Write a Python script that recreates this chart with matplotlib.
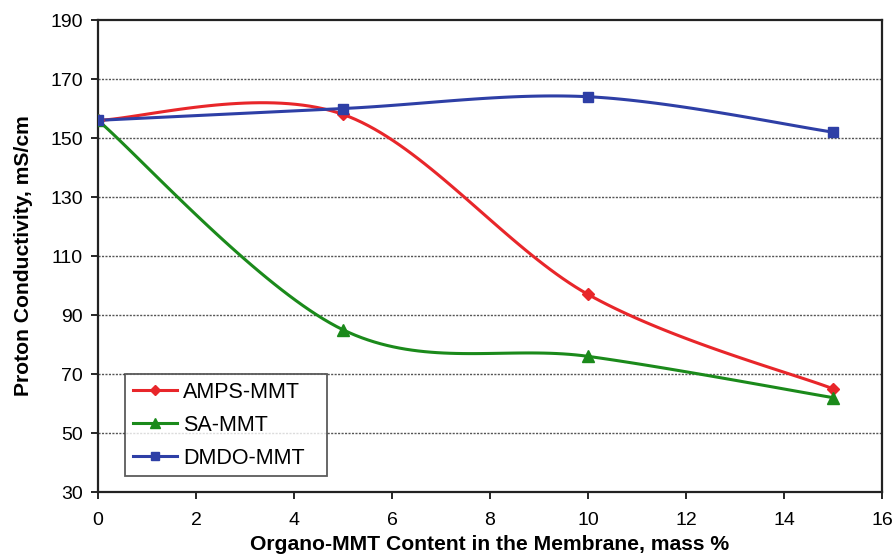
import numpy as np
import matplotlib.pyplot as plt

plt.rcParams['font.family'] = ['Liberation Sans', 'DejaVu Sans']

# data
content = [0, 5, 10, 15]
amps_mmt = [156, 158, 97, 65]
sa_mmt = [156, 85, 76, 62]
dmdo_mmt = [156, 160, 164, 152]

series_names = ["AMPS-MMT", "SA-MMT", "DMDO-MMT"]
colors = ["#e8262a", "#1b8a1b", "#2e3fa6"]
markers = ["D", "^", "s"]
msizes = [6, 8, 7]


def smooth(x, y, n=40):
    # Excel-like smoothed line (Catmull-Rom style bezier)
    x = np.asarray(x, float)
    y = np.asarray(y, float)
    P = np.column_stack([x, y])
    P = np.vstack([P[0], P, P[-1]])
    out = []
    t = np.linspace(0, 1, n)[:, None]
    for i in range(1, len(P) - 2):
        p0, p1 = P[i], P[i + 1]
        c1 = p0 + (P[i + 1] - P[i - 1]) / 6
        c2 = p1 - (P[i + 2] - P[i]) / 6
        seg = ((1 - t) ** 3) * p0 + 3 * ((1 - t) ** 2) * t * c1 + 3 * (1 - t) * t ** 2 * c2 + t ** 3 * p1
        out.append(seg)
    out = np.vstack(out)
    return out[:, 0], out[:, 1]


fig = plt.figure(figsize=(8.95, 5.56), dpi=100)
ax = fig.add_axes([0.1095, 0.115, 0.876, 0.849])

for vals, name, c, m, ms in zip([amps_mmt, sa_mmt, dmdo_mmt], series_names, colors, markers, msizes):
    sx, sy = smooth(content, vals)
    ax.plot(sx, sy, color=c, lw=2.2, zorder=3)
    ax.plot(content, vals, ls='none', marker=m, ms=ms, color=c, zorder=4)
    ax.plot([], [], color=c, lw=2.2, marker=m, ms=ms - 1, label=name)

ax.set_xlim(0, 16)
ax.set_ylim(30, 190)
ax.set_xticks(range(0, 17, 2))
ax.set_yticks(range(30, 191, 20))
for yv in range(50, 190, 20):
    ax.axhline(yv, color='#555555', lw=1.0, ls=(0, (1.5, 1.0)), zorder=1)

ax.tick_params(labelsize=14, direction='out', length=5, width=1.2)
ax.tick_params(axis='x', pad=9)
ax.tick_params(axis='y', pad=6)
for s in ax.spines.values():
    s.set_linewidth(1.6)
    s.set_color('#222222')

ax.set_xlabel("Organo-MMT Content in the Membrane, mass %", fontsize=15.2,
              fontweight='bold', labelpad=5)
ax.set_ylabel("Proton Conductivity, mS/cm", fontsize=15.2, fontweight='bold', labelpad=12)

leg = ax.legend(loc='lower left', bbox_to_anchor=(0.0344, 0.0339, 0.2577, 0.214),
                mode='expand', fontsize=15.5,
                frameon=True, fancybox=False, edgecolor='#333333', handlelength=2.05,
                borderpad=0.35, borderaxespad=0, labelspacing=0.55, handletextpad=0.3)
leg.get_frame().set_linewidth(1.3)

fig.savefig("out.png", dpi=100)
